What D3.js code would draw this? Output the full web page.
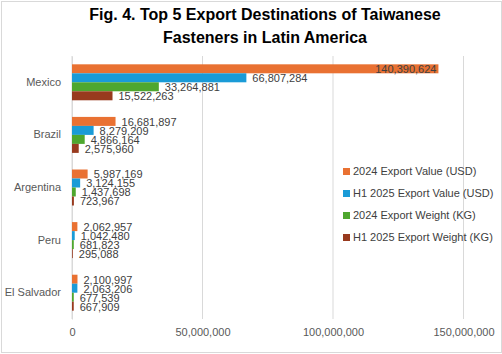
<!DOCTYPE html>
<html>
<head>
<meta charset="utf-8">
<script src="https://cdn.jsdelivr.net/npm/d3@7"></script>
<style>
  body { margin: 0; background: #fff; }
  text { font-family: "Liberation Sans", Arial, sans-serif; }
</style>
</head>
<body>
<script>
const countries = ['Mexico', 'Brazil', 'Argentina', 'Peru', 'El Salvador']
const seriesNames = ['2024 Export Value (USD)', 'H1 2025 Export Value (USD)', '2024 Export Weight (KG)', 'H1 2025 Export Weight (KG)']
const value2024 = [140390624, 16681897, 5987169, 2062957, 2100997]
const valueH12025 = [66807284, 8279209, 3124155, 1042480, 2063206]
const weight2024 = [33264881, 4866164, 1437698, 681823, 677539]
const weightH12025 = [15522263, 2575960, 723967, 295088, 667909]
const xTicks = [0, 50000000, 100000000, 150000000]
const colors = ['#E97132', '#1A9BD7', '#4EA72E', '#983A1E']

const allSeries = [value2024, valueH12025, weight2024, weightH12025]

const width = 502
const height = 354
const margin = {top: 56, right: 38.5, bottom: 35, left: 72}

const svg = d3.select('body').append('svg')
  .attr('width', width)
  .attr('height', height)

// chart frame
svg.append('rect')
  .attr('x', 1.5).attr('y', 1.5)
  .attr('width', width - 2).attr('height', height - 3)
  .attr('fill', '#fff')
  .attr('stroke', '#d9d9d9')

const title = svg.append('text')
  .attr('text-anchor', 'middle')
  .attr('font-weight', 'bold')
  .attr('font-size', 16)
  .attr('fill', '#000')
title.append('tspan').attr('x', 265).attr('y', 20).text('Fig. 4. Top 5 Export Destinations of Taiwanese')
title.append('tspan').attr('x', 265).attr('y', 43).text('Fasteners in Latin America')

const x = d3.scaleLinear()
  .domain([0, 150000000])
  .range([margin.left, width - margin.right])

const y = d3.scaleBand()
  .domain(countries)
  .range([margin.top, height - margin.bottom])
  .paddingInner(0.316)
  .paddingOuter(0.158)

const ySub = d3.scaleBand()
  .domain(d3.range(seriesNames.length))
  .range([0, y.bandwidth()])

// gridlines
svg.append('g')
  .selectAll('line')
  .data(xTicks)
  .enter().append('line')
    .attr('x1', d => x(d)).attr('x2', d => x(d))
    .attr('y1', margin.top).attr('y2', height - margin.bottom)
    .attr('stroke', '#d9d9d9')
    .attr('stroke-width', 1)

// x axis labels
const xAxis = svg.append('g')
  .attr('transform', 'translate(0,' + (height - margin.bottom) + ')')
  .call(d3.axisBottom(x).tickValues(xTicks).tickFormat(d3.format(',')).tickSize(0).tickPadding(9))
xAxis.select('.domain').remove()
xAxis.selectAll('text')
  .attr('font-family', '"Liberation Sans", Arial, sans-serif')
  .attr('font-size', 11)
  .attr('fill', '#595959')

// y axis labels
const yAxis = svg.append('g')
  .attr('transform', 'translate(' + margin.left + ',0)')
  .call(d3.axisLeft(y).tickSize(0).tickPadding(11))
yAxis.select('.domain').attr('stroke', '#d9d9d9')
yAxis.selectAll('text')
  .attr('font-family', '"Liberation Sans", Arial, sans-serif')
  .attr('font-size', 11)
  .attr('fill', '#595959')

// bars
const groups = svg.append('g')
  .selectAll('g')
  .data(countries)
  .enter().append('g')
    .attr('transform', d => 'translate(0,' + y(d) + ')')

groups.selectAll('rect')
  .data((c, ci) => allSeries.map((s, si) => ({si: si, v: s[ci]})))
  .enter().append('rect')
    .attr('x', x(0))
    .attr('y', d => ySub(d.si))
    .attr('width', d => x(d.v) - x(0))
    .attr('height', ySub.bandwidth())
    .attr('fill', d => colors[d.si])

const fmt = d3.format(',')
groups.selectAll('text')
  .data((c, ci) => allSeries.map((s, si) => ({si: si, v: s[ci]})))
  .enter().append('text')
    .attr('x', d => d.v > 120000000 ? x(d.v) - 2 : x(d.v) + 6)
    .attr('y', d => ySub(d.si) + ySub.bandwidth() / 2 + 0.5)
    .attr('dy', '0.35em')
    .attr('text-anchor', d => d.v > 120000000 ? 'end' : 'start')
    .attr('font-size', 11)
    .attr('fill', '#404040')
    .text(d => fmt(d.v))

// legend
const legend = svg.append('g')
  .selectAll('g')
  .data(seriesNames)
  .enter().append('g')
    .attr('transform', (d, i) => 'translate(343,' + (171.5 + i * 22) + ')')
legend.append('rect')
  .attr('x', 0).attr('y', -3.5)
  .attr('width', 7).attr('height', 7)
  .attr('fill', (d, i) => colors[i])
legend.append('text')
  .attr('x', 10)
  .attr('dy', '0.35em')
  .attr('font-size', 11)
  .attr('fill', '#404040')
  .text(d => d)
</script>
</body>
</html>
